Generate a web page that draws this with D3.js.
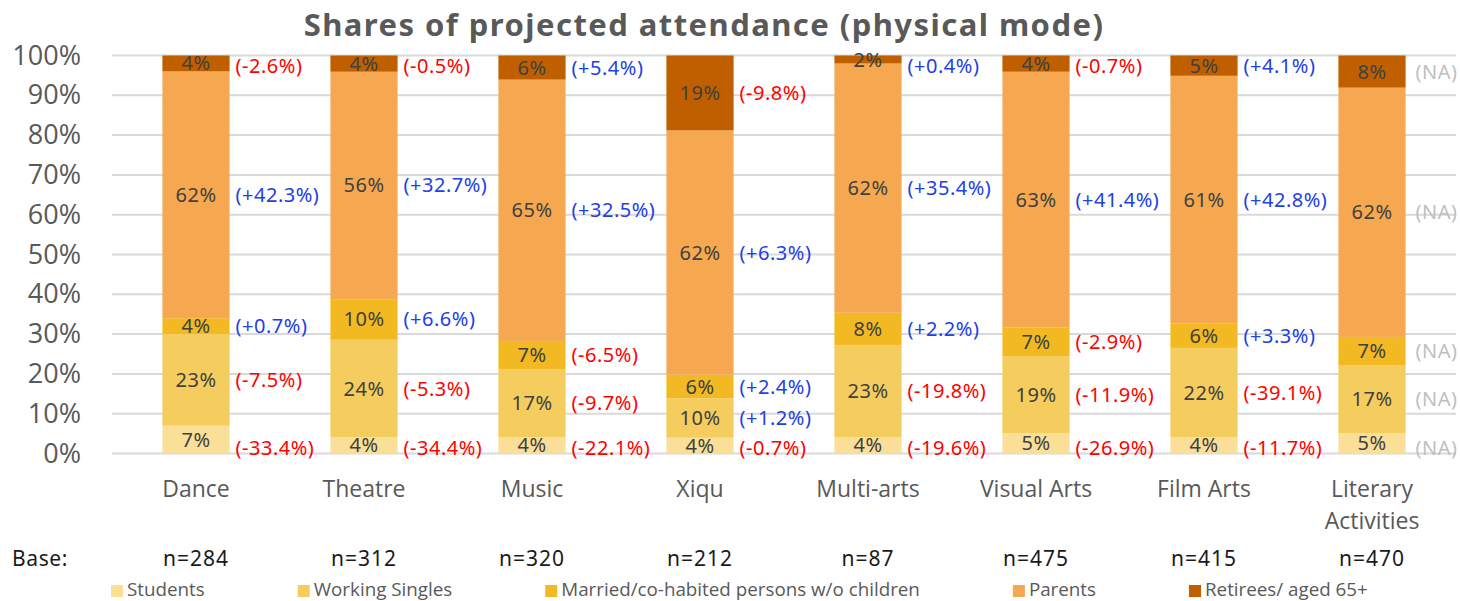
<!DOCTYPE html>
<html>
<head>
<meta charset="utf-8">
<script src="https://cdn.jsdelivr.net/npm/d3@7"></script>
<style>
  html, body { margin: 0; padding: 0; background: #ffffff; }
  svg { display: block; }
</style>
</head>
<body>
<svg id="chart" width="1460" height="601"></svg>
<script>
// ---- data ----
const categories = ["Dance", "Theatre", "Music", "Xiqu", "Multi-arts", "Visual Arts", "Film Arts", "Literary Activities"];
const bases = [284, 312, 320, 212, 87, 475, 415, 470];
const groups = ["Students", "Working Singles", "Married/co-habited persons w/o children", "Parents", "Retirees/ aged 65+"];

// share of projected attendance (%) per group
const students       = [7, 4, 4, 4, 4, 5, 4, 5];
const workingSingles = [23, 24, 17, 10, 23, 19, 22, 17];
const married        = [4, 10, 7, 6, 8, 7, 6, 7];
const parents        = [62, 56, 65, 62, 62, 63, 61, 62];
const retirees       = [4, 4, 6, 19, 2, 4, 5, 8];

// change in percentage points (null = not available)
const chgStudents = [-33.4, -34.4, -22.1, -0.7, -19.6, -26.9, -11.7, null];
const chgSingles  = [-7.5, -5.3, -9.7, 1.2, -19.8, -11.9, -39.1, null];
const chgMarried  = [0.7, 6.6, -6.5, 2.4, 2.2, -2.9, 3.3, null];
const chgParents  = [42.3, 32.7, 32.5, 6.3, 35.4, 41.4, 42.8, null];
const chgRetirees = [-2.6, -0.5, 5.4, -9.8, 0.4, -0.7, 4.1, null];

const yTicks = d3.range(0, 1.0001, 0.1);

// ---- styling ----
const colors = ["#FADF98", "#F5CD5E", "#F2B923", "#F6A851", "#C05F00"];
const shares = [students, workingSingles, married, parents, retirees];
const changes = [chgStudents, chgSingles, chgMarried, chgParents, chgRetirees];
const labelFont = "'Noto Sans', sans-serif";

const svg = d3.select("#chart");
const x = d3.scaleBand().domain(categories).range([112, 1456]).paddingInner(0.6).paddingOuter(0.3);
const y = d3.scaleLinear().domain([0, 1]).range([453.5, 55.5]);

const rows = categories.map((c, i) => {
  const r = { category: c };
  groups.forEach((g, k) => { r[g] = shares[k][i]; });
  return r;
});
const stack = d3.stack().keys(groups).offset(d3.stackOffsetExpand);
const layers = stack(rows);

// title
svg.append("text")
  .attr("x", 704).attr("y", 36)
  .attr("text-anchor", "middle")
  .style("font-family", labelFont)
  .style("font-weight", "700")
  .style("font-size", "31px")
  .style("letter-spacing", "1.45px")
  .style("fill", "#595959")
  .text("Shares of projected attendance (physical mode)");

// gridlines
svg.append("g").selectAll("line").data(yTicks).join("line")
  .attr("x1", 112).attr("x2", 1456)
  .attr("y1", d => y(d)).attr("y2", d => y(d))
  .attr("stroke", "#D9D9D9").attr("stroke-width", 2);

// y axis labels
const yAxis = d3.axisLeft(y).tickValues(yTicks).tickFormat(d3.format(".0%")).tickSize(0).tickPadding(0);
const yG = svg.append("g").attr("transform", "translate(81,0)").call(yAxis);
yG.select(".domain").remove();
yG.selectAll("text")
  .style("font-family", "'Open Sans', sans-serif")
  .style("font-size", "27px")
  .style("fill", "#595959");

// bars
const bw = x.bandwidth();
const layerG = svg.append("g").selectAll("g").data(layers).join("g")
  .attr("fill", (d, k) => colors[k]);
layerG.selectAll("rect").data(d => d).join("rect")
  .attr("x", d => x(d.data.category))
  .attr("width", bw)
  .attr("y", d => y(d[1]))
  .attr("height", d => y(d[0]) - y(d[1]));

// share labels inside the bars
layers.forEach((layer, k) => {
  svg.append("g").selectAll("text").data(layer).join("text")
    .attr("x", d => x(d.data.category) + bw / 2)
    .attr("y", d => (y(d[0]) + y(d[1])) / 2)
    .attr("dy", "0.35em")
    .attr("text-anchor", "middle")
    .style("font-family", labelFont)
    .style("font-size", "20px")
    .style("letter-spacing", "0.5px")
    .style("fill", "#404040")
    .text((d, i) => shares[k][i] + "%");
});

// change labels to the right of the bars; the bottom row sits along the axis
const fmtChg = v => v === null ? "(NA)" : "(" + (v > 0 ? "+" : "") + v.toFixed(1) + "%)";
layers.forEach((layer, k) => {
  svg.append("g").selectAll("text").data(layer).join("text")
    .attr("x", (d, i) => x(d.data.category) + bw + (changes[k][i] === null ? 10 : 6))
    .attr("y", d => {
      const mid = (y(d[0]) + y(d[1])) / 2;
      return k === 0 ? Math.max(mid, y(0) - 6) : Math.max(66, mid);
    })
    .attr("dy", "0.35em")
    .style("font-family", labelFont)
    .style("font-size", "20px")
    .style("letter-spacing", "0.5px")
    .style("fill", (d, i) => {
      const v = changes[k][i];
      return v === null ? "#BFBFBF" : (v > 0 ? "#2140E6" : "#FF0000");
    })
    .text((d, i) => fmtChg(changes[k][i]));
});

// category labels (wrapped when too wide)
const catG = svg.append("g");
categories.forEach(c => {
  const t = catG.append("text")
    .attr("x", x(c) + bw / 2).attr("y", 497)
    .attr("text-anchor", "middle")
    .style("font-family", "'Open Sans', sans-serif")
    .style("font-size", "23px")
    .style("fill", "#595959")
    .text(c);
  if (t.node().getComputedTextLength() > 150) {
    const words = c.split(" ");
    t.text(null);
    words.forEach((w, j) => {
      t.append("tspan").attr("x", x(c) + bw / 2).attr("dy", j === 0 ? 0 : 32).text(w);
    });
  }
});

// base sizes
svg.append("text")
  .attr("x", 12).attr("y", 566)
  .style("font-family", labelFont)
  .style("font-size", "21px")
  .style("letter-spacing", "0.6px")
  .style("fill", "#1A1A1A")
  .text("Base:");
svg.append("g").selectAll("text").data(categories).join("text")
  .attr("x", c => x(c) + bw / 2).attr("y", 566)
  .attr("text-anchor", "middle")
  .style("font-family", labelFont)
  .style("font-size", "21px")
  .style("letter-spacing", "1px")
  .style("fill", "#1A1A1A")
  .text((c, i) => "n=" + bases[i]);

// legend
const legend = svg.append("g");
let lx = 111;
groups.forEach((g, k) => {
  legend.append("rect")
    .attr("x", lx).attr("y", 585).attr("width", 12).attr("height", 12)
    .attr("fill", colors[k]);
  const t = legend.append("text")
    .attr("x", lx + 16).attr("y", 596)
    .style("font-family", "'Open Sans', sans-serif")
    .style("font-size", "18.8px")
    .style("fill", "#595959")
    .text(g);
  lx += 16 + t.node().getComputedTextLength() + 93;
});
</script>
</body>
</html>
